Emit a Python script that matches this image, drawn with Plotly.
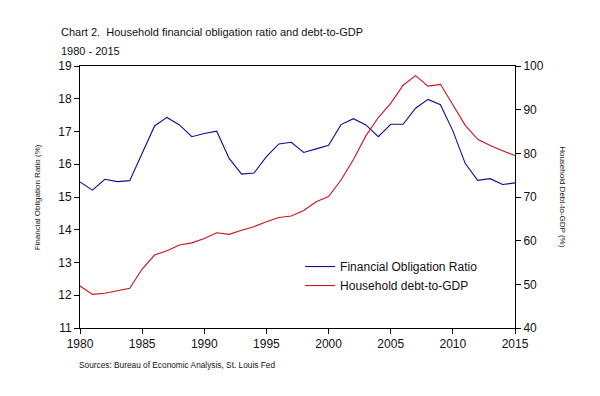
import plotly.graph_objects as go

years = [1980, 1981, 1982, 1983, 1984, 1985, 1986, 1987, 1988, 1989,
         1990, 1991, 1992, 1993, 1994, 1995, 1996, 1997, 1998, 1999,
         2000, 2001, 2002, 2003, 2004, 2005, 2006, 2007, 2008, 2009,
         2010, 2011, 2012, 2013, 2014, 2015]

fin_obligation = [15.46, 15.21, 15.54, 15.47, 15.50, 16.35, 17.17, 17.43, 17.20, 16.84,
                  16.94, 17.01, 16.18, 15.70, 15.73, 16.23, 16.62, 16.67, 16.36, 16.47,
                  16.58, 17.21, 17.39, 17.20, 16.84, 17.22, 17.22, 17.71, 17.98, 17.82,
                  17.02, 16.02, 15.51, 15.56, 15.38, 15.43]

debt_to_gdp = [49.6, 47.7, 47.95, 48.5, 49.1, 53.5, 56.7, 57.7, 59.0, 59.5,
               60.5, 61.8, 61.45, 62.4, 63.2, 64.35, 65.3, 65.65, 66.9, 68.9,
               70.1, 73.9, 78.6, 84.0, 88.2, 91.45, 95.6, 97.8, 95.4, 95.8,
               91.07, 86.4, 83.2, 81.8, 80.6, 79.5]

x_ticks = [1980, 1985, 1990, 1995, 2000, 2005, 2010, 2015]
left_ticks = [11, 12, 13, 14, 15, 16, 17, 18, 19]
right_ticks = [40, 50, 60, 70, 80, 90, 100]

FONT = "Liberation Sans, Arial, sans-serif"
BLUE = "#0c0c96"
RED = "#d0101c"

fig = go.Figure()
fig.add_trace(go.Scatter(x=years, y=fin_obligation, mode="lines",
                         name="Financial Obligation Ratio",
                         line=dict(color=BLUE, width=1.1), yaxis="y"))
fig.add_trace(go.Scatter(x=years, y=debt_to_gdp, mode="lines",
                         name="Household debt-to-GDP",
                         line=dict(color=RED, width=1.1), yaxis="y2"))

axis_common = dict(showgrid=False, zeroline=False, showline=True, linecolor="black",
                   linewidth=1, ticks="outside", ticklen=5, tickcolor="black",
                   tickfont=dict(family=FONT, size=12, color="#111"))

fig.update_layout(
    width=592, height=388,
    margin=dict(l=72, r=85, t=58, b=68),
    paper_bgcolor="white", plot_bgcolor="white",
    font=dict(family=FONT, size=12, color="#111"),
    showlegend=True,
    legend=dict(x=0.506, y=0.29, xanchor="left", yanchor="top",
                bgcolor="rgba(0,0,0,0)", font=dict(family=FONT, size=12, color="#111"),
                tracegroupgap=0),
    xaxis=dict(range=[1980, 2015], tickvals=x_ticks, mirror=True, **axis_common),
    yaxis=dict(range=[11, 19], tickvals=left_ticks, **axis_common),
    yaxis2=dict(range=[40, 100], tickvals=right_ticks, overlaying="y", side="right",
                **axis_common),
    annotations=[
        dict(text="Chart 2.  Household financial obligation ratio and debt-to-GDP",
             xref="paper", yref="paper", x=-0.048, y=1.0, xanchor="left", yanchor="bottom",
             yshift=26, showarrow=False, font=dict(family=FONT, size=11, color="#111")),
        dict(text="1980 - 2015",
             xref="paper", yref="paper", x=-0.048, y=1.0, xanchor="left", yanchor="bottom",
             yshift=7, showarrow=False, font=dict(family=FONT, size=11, color="#111")),
        dict(text="Financial Obligation Ratio (%)",
             xref="paper", yref="paper", x=-0.098, y=0.5, xanchor="center", yanchor="middle",
             textangle=-90, showarrow=False, font=dict(family=FONT, size=8, color="#111")),
        dict(text="Household Debt-to-GDP (%)",
             xref="paper", yref="paper", x=1.11, y=0.5, xanchor="center", yanchor="middle",
             textangle=90, showarrow=False, font=dict(family=FONT, size=8, color="#111")),
        dict(text="Sources: Bureau of Economic Analysis, St. Louis Fed",
             xref="paper", yref="paper", x=-0.007, y=0, xanchor="left", yanchor="middle",
             yshift=-37, showarrow=False, font=dict(family=FONT, size=8.3, color="#111")),
    ],
)

fig.write_html("out.html")
